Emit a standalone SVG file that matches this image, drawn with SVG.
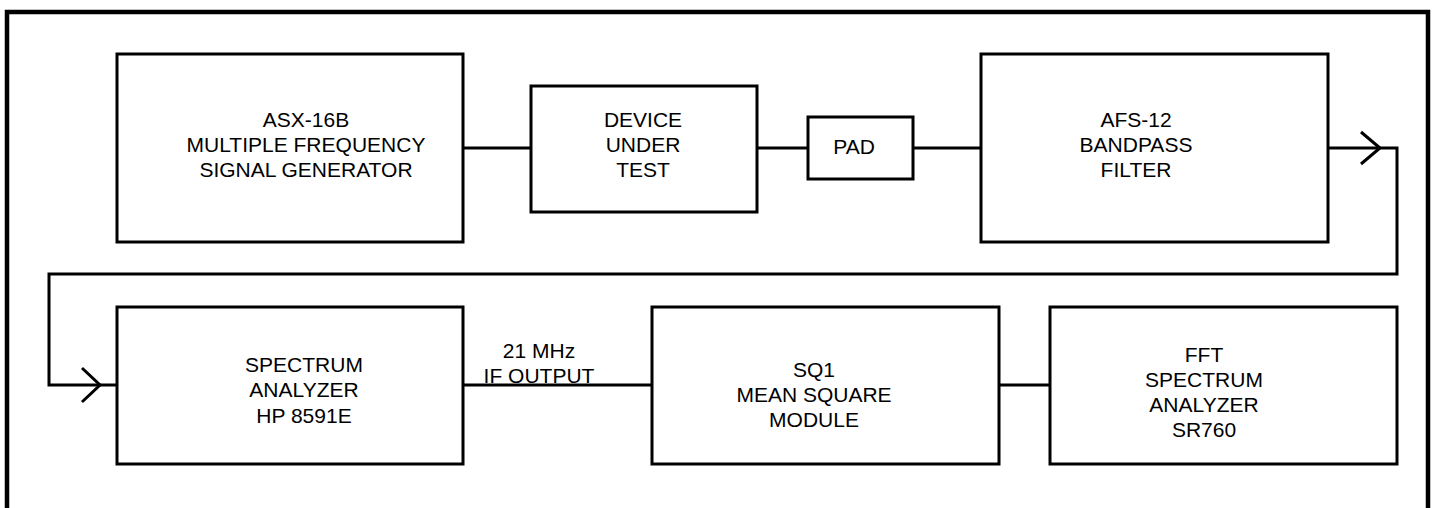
<svg xmlns="http://www.w3.org/2000/svg" width="1434" height="508" viewBox="0 0 1434 508">
<style>
.box{fill:#fff;stroke:#000;stroke-width:3}
.ln{fill:none;stroke:#000;stroke-width:3}
text{font-family:"Liberation Sans",Arial,sans-serif;font-size:21px;fill:#000;text-anchor:middle}
</style>
<rect x="7" y="12" width="1421" height="520" fill="#fff" stroke="#000" stroke-width="4.5"/>
<g id="connectors">
<path class="ln" d="M463 148H531"/>
<path class="ln" d="M757 148H808"/>
<path class="ln" d="M913 148H981"/>
<path class="ln" d="M1328 148H1397V274H49V385H117"/>
<path class="ln" d="M1361 132L1380 148L1361 164"/>
<path class="ln" d="M82 368L100 385L82 402"/>
<path class="ln" d="M463 385H652"/>
<path class="ln" d="M999 385H1050"/>
<text x="539" y="358">21 MHz</text>
<text x="539" y="383">IF OUTPUT</text>
</g>
<g id="asx">
<rect class="box" x="117" y="54" width="346" height="188"/>
<text x="306" y="127">ASX-16B</text>
<text x="306" y="152">MULTIPLE FREQUENCY</text>
<text x="306" y="177">SIGNAL GENERATOR</text>
</g>
<g id="dut">
<rect class="box" x="531" y="86" width="226" height="126"/>
<text x="643" y="127">DEVICE</text>
<text x="643" y="152">UNDER</text>
<text x="643" y="177">TEST</text>
</g>
<g id="pad">
<rect class="box" x="808" y="117" width="105" height="62"/>
<text x="854" y="154">PAD</text>
</g>
<g id="afs">
<rect class="box" x="981" y="54" width="347" height="188"/>
<text x="1136" y="127">AFS-12</text>
<text x="1136" y="152">BANDPASS</text>
<text x="1136" y="177">FILTER</text>
</g>
<g id="spectrum">
<rect class="box" x="117" y="307" width="346" height="157"/>
<text x="304" y="372">SPECTRUM</text>
<text x="304" y="397">ANALYZER</text>
<text x="304" y="423">HP 8591E</text>
</g>
<g id="sq1">
<rect class="box" x="652" y="307" width="347" height="157"/>
<text x="814" y="377">SQ1</text>
<text x="814" y="402">MEAN SQUARE</text>
<text x="814" y="427">MODULE</text>
</g>
<g id="fft">
<rect class="box" x="1050" y="307" width="347" height="157"/>
<text x="1204" y="362">FFT</text>
<text x="1204" y="387">SPECTRUM</text>
<text x="1204" y="412">ANALYZER</text>
<text x="1204" y="437">SR760</text>
</g>
</svg>
